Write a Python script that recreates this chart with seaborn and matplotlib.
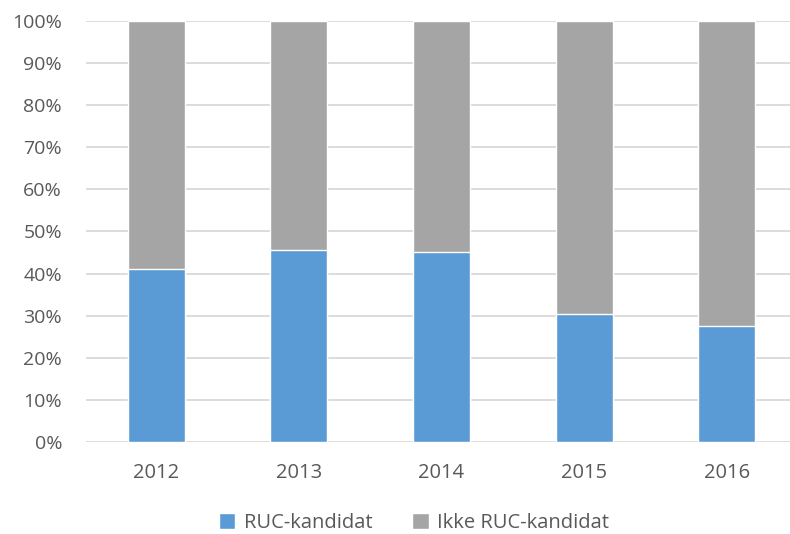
import pandas as pd
import seaborn as sns
import matplotlib.pyplot as plt
from matplotlib.patches import Patch
from matplotlib.ticker import PercentFormatter

# Share of graduates per year (percent)
years = ["2012", "2013", "2014", "2015", "2016"]
ruc_kandidat = [41.1, 45.7, 45.2, 30.3, 27.6]
ikke_ruc_kandidat = [58.9, 54.3, 54.8, 69.7, 72.4]

blue = "#5B9BD5"
grey = "#A5A5A5"
text_col = "#595959"

df = pd.DataFrame({"year": years, "ruc": ruc_kandidat, "ikke": ikke_ruc_kandidat})
df["total"] = df["ruc"] + df["ikke"]

sns.set_style("white")
plt.rcParams["font.family"] = ["Open Sans", "DejaVu Sans"]

fig = plt.figure(figsize=(7.9, 5.34), dpi=100)
ax = fig.add_axes([0.1084, 0.1723, 0.8916, 0.7884])

# stacked: grey total behind, blue share in front
sns.barplot(data=df, x="year", y="total", color=grey, width=0.4, saturation=1, ax=ax, zorder=2)
sns.barplot(data=df, x="year", y="ruc", color=blue, width=0.4, saturation=1, ax=ax, zorder=3)

ax.set_ylim(0, 100)
ax.set_xlim(-0.495, 4.444)
ax.set_yticks(range(0, 101, 10))
ax.yaxis.set_major_formatter(PercentFormatter(decimals=0))
ax.grid(axis="y", color="#D9D9D9", linewidth=1.3, zorder=0)
ax.set_axisbelow(True)
for s in ["top", "right", "left", "bottom"]:
    ax.spines[s].set_visible(False)
ax.set_xlabel("")
ax.set_ylabel("")
ax.tick_params(axis="y", length=0, pad=17, labelsize=14, labelcolor=text_col)
ax.tick_params(axis="x", length=0, pad=15, labelsize=14.5, labelcolor=text_col)

handles = [Patch(facecolor=blue, label="RUC-kandidat"),
           Patch(facecolor=grey, label="Ikke RUC-kandidat")]
fig.legend(handles=handles, loc="center", bbox_to_anchor=(414 / 790, 1 - 523 / 534), ncol=2,
           frameon=False, fontsize=14.5, labelcolor=text_col, handlelength=0.8,
           handleheight=0.8, handletextpad=0.4, columnspacing=2.0)

fig.savefig("out.png", dpi=100)
